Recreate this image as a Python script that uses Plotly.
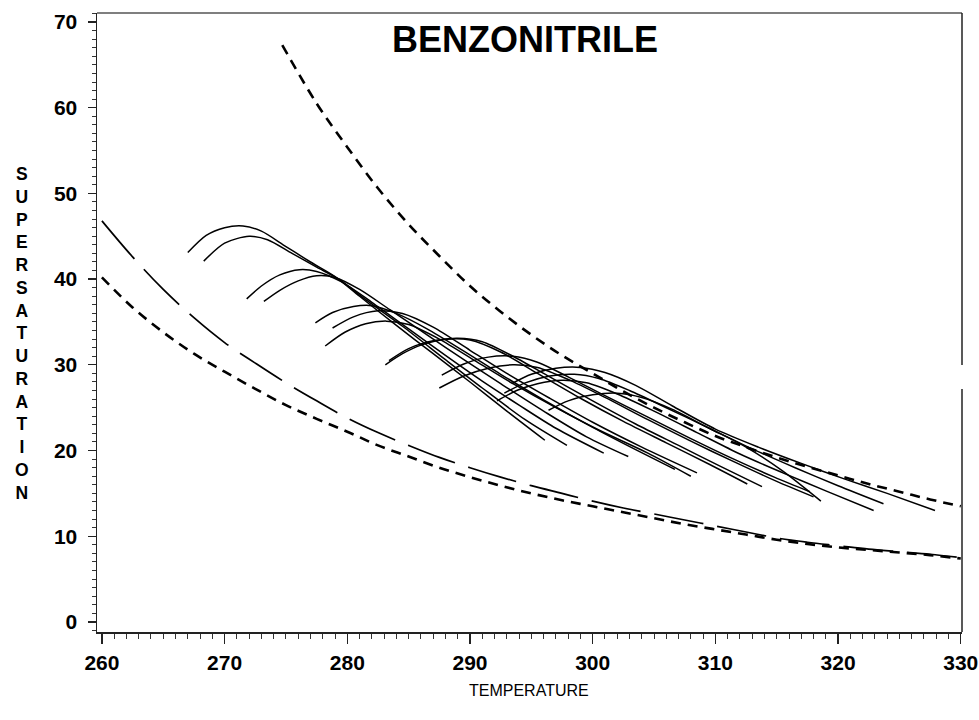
import plotly.graph_objects as go

# ---------------- data ----------------
title_text = "BENZONITRILE"
x_title = "TEMPERATURE"
y_title = "SUPERSATURATION"

x_ticks = [260, 270, 280, 290, 300, 310, 320, 330]
y_ticks = [0, 10, 20, 30, 40, 50, 60, 70]

# upper short-dashed curve
upper_T = [274.7, 277.5, 280, 282.5, 285, 287.5, 290, 292.5, 295, 297.5, 300, 302.5,
           305, 307.5, 310, 312.5, 315, 317.5, 320, 322.5, 325, 327.5, 330]
upper_S = [67.3, 60.5, 55.4, 50.6, 46.4, 42.7, 39.2, 36.2, 33.5, 31.1, 29.0, 26.9,
           25.0, 23.3, 21.7, 20.4, 19.2, 18.1, 17.1, 16.1, 15.2, 14.3, 13.5]

# long-dashed curve
long_T = [260, 262.5, 265, 267.5, 270, 272.5, 275, 277.5, 280, 282.5, 285, 287.5, 290,
          292.5, 295, 297.5, 300, 302.5, 305, 307.5, 310, 312.5, 315, 317.5, 320,
          322.5, 325, 327.5, 330]
long_S = [46.8, 42.6, 38.8, 35.5, 32.6, 30.2, 27.9, 25.8, 23.8, 22.1, 20.6, 19.2, 18.0,
          16.9, 15.9, 15.0, 14.1, 13.3, 12.6, 11.9, 11.2, 10.5, 9.8, 9.3, 8.9,
          8.5, 8.2, 7.9, 7.5]

# lower short-dashed curve
lower_T = [260, 262.5, 265, 267.5, 270, 272.5, 275, 277.5, 280, 282.5, 285, 287.5, 290,
           292.5, 295, 297.5, 300, 302.5, 305, 307.5, 310, 312.5, 315, 317.5, 320,
           322.5, 325, 327.5, 330]
lower_S = [40.2, 36.7, 33.8, 31.3, 29.2, 27.2, 25.3, 23.7, 22.2, 20.6, 19.3, 18.0, 16.9,
           15.9, 15.0, 14.2, 13.5, 12.8, 12.1, 11.4, 10.8, 10.2, 9.6, 9.1, 8.7,
           8.4, 8.1, 7.8, 7.4]

# solid arcs (individual runs)
arc_T = [
    [267.0, 268.5, 270, 271.5, 273, 275, 277, 279, 281, 284, 287, 290, 293, 296.1],
    [268.3, 270, 272, 273.5, 275.5, 277.5, 279.3, 281.5, 284.5, 288, 291, 294.5, 297.9],
    [271.8, 273, 274.5, 276.1, 277.5, 279.5, 282, 285, 288, 291, 294, 297, 300.9],
    [273.2, 274.5, 276, 277.5, 279, 281, 283.5, 286.5, 289.5, 292.5, 296, 299.5, 302.9],
    [277.4, 278.8, 280.5, 282, 284, 286.5, 289.5, 292.5, 296, 300, 303.5, 306.7],
    [278.8, 280.5, 282.5, 284.5, 287, 290, 293, 296.5, 300, 304, 308.5],
    [278.2, 279.8, 281.5, 283.2, 285, 287.5, 290.5, 293.5, 297, 300.5, 304.5, 308.0],
    [283.1, 284.5, 286, 288.1, 290, 292.5, 295.5, 299, 302.5, 306, 309.5, 312.6],
    [283.4, 285, 287, 289, 291, 293.5, 296.5, 300, 303.5, 307, 310.5, 313.8],
    [287.7, 289.5, 291.5, 293.5, 295.5, 298, 301, 304.5, 308, 311.5, 314.8, 317.7],
    [287.5, 289.5, 291.5, 293.5, 295.5, 298, 301, 304.5, 308, 311.5, 315, 318.0],
    [292.2, 293.8, 295.5, 297.5, 299.5, 302, 305, 308.5, 312, 315.5, 319, 322.9],
    [292.8, 294.5, 296.5, 298.5, 300.5, 303, 306, 309.5, 313, 316.5, 320, 323.7],
    [293.4, 295, 297, 299, 301, 303.5, 306.5, 310, 313.5, 317, 320.5, 324, 327.9],
    [296.4, 298, 300, 302, 304, 306.5, 309.5, 312.5, 315.5, 318.6],
]
arc_S = [
    [43.1, 45.1, 46.0, 46.2, 45.6, 43.8, 42.0, 40.3, 38.0, 34.6, 31.3, 28.0, 24.6, 21.2],
    [42.1, 44.2, 45.0, 44.6, 43.0, 41.4, 40.0, 37.6, 34.5, 30.6, 27.3, 23.6, 20.6],
    [37.7, 39.2, 40.5, 41.1, 40.9, 39.7, 37.3, 34.2, 31.1, 28.1, 25.3, 22.6, 19.7],
    [37.4, 38.7, 39.8, 40.4, 40.2, 38.8, 36.4, 33.5, 30.6, 27.8, 24.6, 21.6, 19.3],
    [34.9, 36.1, 36.8, 36.9, 36.0, 34.2, 31.6, 28.9, 25.9, 22.7, 20.1, 17.8],
    [34.3, 35.6, 36.3, 36.0, 34.4, 31.7, 29.0, 26.1, 23.3, 20.4, 17.4],
    [32.2, 33.8, 34.8, 35.1, 34.7, 33.0, 30.4, 27.8, 25.0, 22.4, 19.7, 17.0],
    [30.0, 31.3, 32.3, 33.0, 32.9, 31.5, 29.0, 26.1, 23.4, 20.9, 18.4, 16.1],
    [30.5, 31.9, 32.8, 33.1, 32.7, 31.0, 28.6, 25.8, 23.1, 20.6, 18.1, 15.8],
    [28.8, 30.1, 30.9, 31.0, 30.3, 28.6, 26.4, 23.9, 21.4, 19.0, 16.9, 15.2],
    [27.3, 28.7, 29.6, 30.0, 29.7, 28.3, 26.2, 23.6, 21.1, 18.7, 16.4, 14.6],
    [25.8, 27.0, 27.8, 28.2, 27.9, 26.6, 24.6, 22.1, 19.6, 17.4, 15.3, 13.0],
    [26.7, 27.9, 28.7, 28.9, 28.4, 27.0, 25.0, 22.6, 20.2, 18.0, 15.9, 13.8],
    [27.8, 28.9, 29.6, 29.7, 29.1, 27.6, 25.2, 22.5, 20.4, 18.5, 16.7, 15.0, 13.0],
    [24.7, 25.8, 26.5, 26.7, 26.2, 24.8, 22.6, 20.4, 17.6, 14.1],
]

# ---------------- figure ----------------
FIG_W, FIG_H = 979, 720
L, T = 97, 13
PW, PH = 865, 619
R = FIG_W - L - PW
B = FIG_H - T - PH

fig = go.Figure()

for ts, ss in zip(arc_T, arc_S):
    fig.add_trace(go.Scatter(x=ts, y=ss, mode="lines",
                             line=dict(color="black", width=1.5, shape="spline", smoothing=0.8),
                             hoverinfo="skip", showlegend=False))

fig.add_trace(go.Scatter(x=long_T, y=long_S, mode="lines",
                         line=dict(color="black", width=1.7, dash="50px,14px", shape="spline"),
                         hoverinfo="skip", showlegend=False))
fig.add_trace(go.Scatter(x=lower_T, y=lower_S, mode="lines",
                         line=dict(color="black", width=2.6, dash="10px,7px", shape="spline"),
                         hoverinfo="skip", showlegend=False))
fig.add_trace(go.Scatter(x=upper_T, y=upper_S, mode="lines",
                         line=dict(color="black", width=2.6, dash="10px,7px", shape="spline"),
                         hoverinfo="skip", showlegend=False))

tick_font = dict(family="Liberation Sans, Arial, sans-serif", size=21, color="black", weight="bold")

fig.update_layout(
    width=FIG_W, height=FIG_H,
    margin=dict(l=L, r=R, t=T, b=B, autoexpand=False),
    paper_bgcolor="white", plot_bgcolor="white",
    showlegend=False,
    xaxis=dict(range=[259.6, 330.1], tickvals=x_ticks, ticktext=[str(v) for v in x_ticks],
               automargin=False,
               showgrid=False, zeroline=False, showline=True, linecolor="#222", linewidth=1.5,
               mirror=False, ticks="outside", ticklen=10, tickwidth=1.3, tickcolor="#222",
               tickfont=tick_font, ticklabelstandoff=1, ticklabeloverflow="allow",
               minor=dict(dtick=1, ticks="outside", ticklen=5, tickwidth=1, tickcolor="#333",
                          showgrid=False)),
    yaxis=dict(range=[-1.17, 71.05], tickvals=y_ticks, ticktext=[str(v) for v in y_ticks],
               automargin=False,
               showgrid=False, zeroline=False, showline=True, linecolor="#222", linewidth=1.5,
               mirror=False, ticks="outside", ticklen=8, tickwidth=1.3, tickcolor="#222",
               tickfont=tick_font, ticklabelstandoff=6, ticklabeloverflow="allow",
               minor=dict(dtick=1, ticks="outside", ticklen=4, tickwidth=1, tickcolor="#333",
                          showgrid=False)),
)

def px_x(p):  # page pixel -> paper x
    return (p - L) / PW

def px_y(p):  # page pixel -> paper y
    return 1 - (p - T) / PH

# frame: top and right borders (right border has a small break as in the reference)
fig.add_shape(type="line", xref="paper", yref="paper", x0=0, x1=1, y0=1, y1=1,
              line=dict(color="#555", width=1.5))
fig.add_shape(type="line", xref="paper", yref="paper", x0=1, x1=1, y0=1, y1=px_y(365),
              line=dict(color="#222", width=1.5))
fig.add_shape(type="line", xref="paper", yref="paper", x0=1, x1=1, y0=px_y(389), y1=0,
              line=dict(color="#222", width=1.5))

# chart title inside plot
fig.add_annotation(text=title_text, xref="paper", yref="paper",
                   x=px_x(525), y=px_y(39), xanchor="center", yanchor="middle",
                   showarrow=False,
                   font=dict(family="Liberation Sans, Arial, sans-serif", size=36, color="black",
                             weight="bold"))

# x-axis title
fig.add_annotation(text=x_title, xref="paper", yref="paper",
                   x=px_x(529), y=px_y(690), xanchor="center", yanchor="middle",
                   showarrow=False,
                   font=dict(family="Liberation Sans, Arial, sans-serif", size=16, color="black"))

# y-axis title as stacked letters
fig.add_annotation(text="<br>".join(list(y_title)), xref="paper", yref="paper",
                   x=px_x(22), y=px_y(333), xanchor="center", yanchor="middle",
                   showarrow=False, align="center",
                   font=dict(family="Liberation Sans, Arial, sans-serif", size=17.5, color="black",
                             weight="bold"))

# remove the default page margin so the figure sits at the window origin
fig.write_html("out.html",
               config={"displayModeBar": False, "staticPlot": True},
               post_script="document.body.style.margin='0px';document.body.style.overflow='hidden';")
